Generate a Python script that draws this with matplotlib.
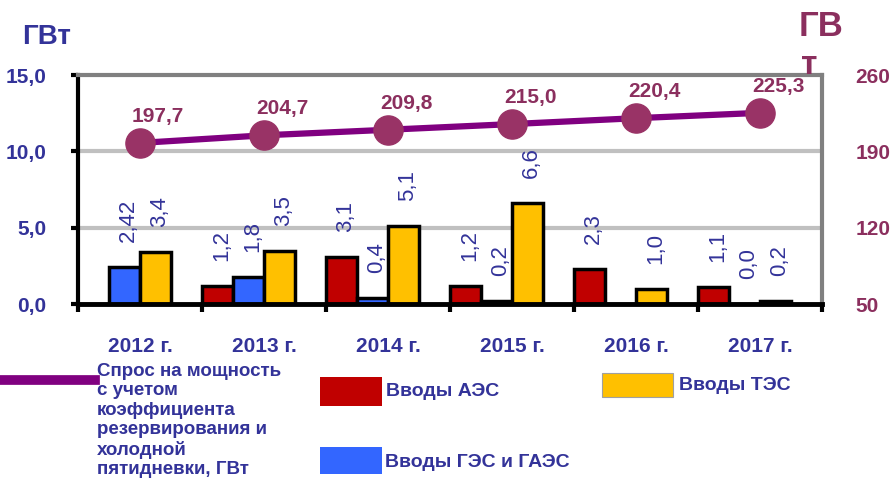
import matplotlib
matplotlib.use("Agg")
import matplotlib.pyplot as plt
import numpy as np
from matplotlib.patches import Rectangle
from matplotlib.lines import Line2D

plt.rcParams['font.family'] = ['Liberation Sans', 'DejaVu Sans']

# data
years = ["2012 г.", "2013 г.", "2014 г.", "2015 г.", "2016 г.", "2017 г."]
aes = [np.nan, 1.2, 3.1, 1.2, 2.3, 1.1]      # Вводы АЭС
ges = [2.42, 1.8, 0.4, 0.2, np.nan, 0.0]     # Вводы ГЭС и ГАЭС
tes = [3.4, 3.5, 5.1, 6.6, 1.0, 0.2]         # Вводы ТЭС
demand = [197.7, 204.7, 209.8, 215.0, 220.4, 225.3]

left_ticks = [0, 5, 10, 15]
right_ticks = [50, 120, 190, 260]

BLUE_TXT = '#333399'
MAROON = '#8B2F5E'
RED = '#C00000'
BLUE = '#3366FF'
YELLOW = '#FFC000'

W, H = 892, 494
fig = plt.figure(figsize=(W / 100, H / 100), dpi=100)
ax = fig.add_axes([78 / W, 1 - 304 / H, (822 - 78) / W, (304 - 75) / H])

x = np.arange(len(years))
bw = 0.25
series = [(aes, RED, -0.375), (ges, BLUE, -0.125), (tes, YELLOW, 0.125)]
for vals, col, off in series:
    v = np.nan_to_num(np.array(vals, dtype=float))
    ax.bar(x + off, v, width=bw, color=col, edgecolor='black', linewidth=2.5, zorder=3)
    for xi, val in zip(x + off, vals):
        if np.isnan(val):
            continue
        s = f"{val:.2f}" if val == 2.42 else f"{val:.1f}"
        ax.annotate(s.replace('.', ','), (xi, val), xytext=(3, 18), textcoords='offset points',
                    rotation=90, ha='center', va='bottom', fontsize=16, color=BLUE_TXT, zorder=5)

ax.set_xlim(-0.5, len(years) - 0.5)
ax.set_ylim(0, 15)
ax.set_yticks(left_ticks)
ax.set_yticklabels([f"{t:.1f}".replace('.', ',') for t in left_ticks],
                   fontsize=15, fontweight='bold', color=BLUE_TXT)
ax.tick_params(axis='y', direction='out', length=5, width=3, color='black', pad=18)
ax.set_xticks(x)
ax.set_xticklabels(years, fontsize=15, fontweight='bold', color=BLUE_TXT)
ax.set_xticks(np.arange(-0.5, len(years)), minor=True)
ax.tick_params(axis='x', which='major', length=0, pad=24)
ax.tick_params(axis='x', which='minor', direction='out', length=6, width=3, color='black')

for g in [5, 10]:
    ax.axhline(g, color='#C0C0C0', linewidth=3, zorder=1)

ax.spines['left'].set_linewidth(3)
ax.spines['left'].set_color('black')
ax.spines['bottom'].set_linewidth(3.5)
ax.spines['bottom'].set_color('black')
ax.spines['bottom'].set_zorder(4)
ax.spines['top'].set_linewidth(3)
ax.spines['top'].set_color('#808080')
ax.spines['right'].set_linewidth(3)
ax.spines['right'].set_color('#808080')

ax2 = ax.twinx()
ax2.plot(x, demand, color='#800080', linewidth=4.5, marker='o', markersize=21,
         markerfacecolor='#993366', markeredgecolor='#993366', zorder=5)
ax2.set_ylim(50, 260)
ax2.set_yticks(right_ticks)
ax2.set_yticklabels([str(t) for t in right_ticks], fontsize=15, fontweight='bold', color=MAROON)
ax2.tick_params(axis='y', length=0, pad=24)
for sp in ax2.spines.values():
    sp.set_visible(False)
for xi, val in zip(x, demand):
    ax2.annotate(f"{val:.1f}".replace('.', ','), (xi, val), xytext=(13, 19), textcoords='offset points',
                 ha='center', va='center', fontsize=15, fontweight='bold', color=MAROON)

# axis titles
fig.text(22 / W, 1 - 37 / H, "ГВт", fontsize=20, fontweight='bold', color=BLUE_TXT, va='center', ha='left')
fig.text(799 / W, 1 - 27 / H, "ГВ", fontsize=25, fontweight='bold', color=MAROON, va='center', ha='left')
fig.text(801 / W, 1 - 66 / H, "т", fontsize=24, fontweight='bold', color=MAROON, va='center', ha='left')

# legend
fig.add_artist(Line2D([0, 95 / W], [1 - 380 / H] * 2, color='#800080', linewidth=7))
fig.text(97 / W, 1 - 363 / H,
         "Спрос на мощность\nс учетом\nкоэффициента\nрезервирования и\nхолодной\nпятидневки, ГВт",
         fontsize=13.5, fontweight='bold', color=BLUE_TXT, va='top', ha='left', linespacing=1.18,
         transform=fig.transFigure)
fig.add_artist(Rectangle((320 / W, 1 - 406 / H), 62 / W, 29 / H, transform=fig.transFigure,
                         facecolor=RED, edgecolor='none'))
fig.text(386 / W, 1 - 391 / H, "Вводы АЭС", fontsize=14, fontweight='bold', color=BLUE_TXT, va='center')
fig.add_artist(Rectangle((320 / W, 1 - 474 / H), 62 / W, 27 / H, transform=fig.transFigure,
                         facecolor=BLUE, edgecolor='none'))
fig.text(385 / W, 1 - 462 / H, "Вводы ГЭС и ГАЭС", fontsize=14, fontweight='bold', color=BLUE_TXT, va='center')
fig.add_artist(Rectangle((602 / W, 1 - 397 / H), 71 / W, 24 / H, transform=fig.transFigure,
                         facecolor=YELLOW, edgecolor='#A0A0A0', linewidth=0.8))
fig.text(679 / W, 1 - 385 / H, "Вводы ТЭС", fontsize=14, fontweight='bold', color=BLUE_TXT, va='center')

fig.savefig("out.png", dpi=100)
